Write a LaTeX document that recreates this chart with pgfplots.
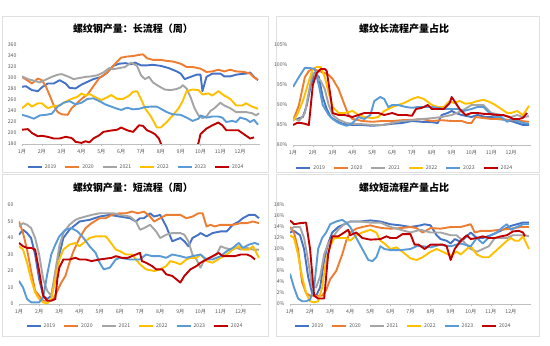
\documentclass[border=0pt]{standalone}
\usepackage{pgfplots}
\pgfplotsset{compat=1.18}
\usepackage{fontspec}
\setmainfont{Noto Sans CJK SC}
\definecolor{c19}{HTML}{4472C4}
\definecolor{c20}{HTML}{ED7D31}
\definecolor{c21}{HTML}{A5A5A5}
\definecolor{c22}{HTML}{FFC000}
\definecolor{c23}{HTML}{5B9BD5}
\definecolor{c24}{HTML}{C00000}
\definecolor{tk}{HTML}{595959}
\pgfplotsset{
  panel/.style={
    scale only axis, anchor=south west,
    xmin=1, xmax=13, enlargelimits=false,
    xtick={1,...,12},
    xticklabels={1月,2月,3月,4月,5月,6月,7月,8月,9月,10月,11月,12月},
    axis x line*=bottom, axis y line*=left,
    x axis line style={draw=black!25, line width=0.6pt},
    y axis line style={draw=none},
    ytick style={draw=none},
    xtick style={draw=black!25, line width=0.5pt},
    major tick length=2pt,
    tick align=outside,
    /pgf/number format/assume math mode=true,
    tick label style={font=\fontsize{5.2}{6}\selectfont, text=tk},
    every axis plot/.append style={line width=1.9pt, line join=round, mark=none},
    legend columns=6,
    legend style={draw=none, fill=none, font=\fontsize{5.2}{6}\selectfont, text=tk,
      /tikz/every even column/.append style={column sep=6pt}},
    legend image code/.code={\draw[##1, line width=1.9pt] (0pt,0pt) -- (14pt,0pt);},
  },
}
\begin{document}
\begin{tikzpicture}
\useasboundingbox (0pt,0pt) rectangle (550pt,346pt);
\fill[white] (0pt,0pt) rectangle (550pt,346pt);
\draw[black!12, line width=0.6pt] (2pt,174pt) rectangle (268pt,330pt);
\draw[black!12, line width=0.6pt] (276pt,174pt) rectangle (539pt,330pt);
\draw[black!12, line width=0.6pt] (2pt,10pt) rectangle (268pt,172pt);
\draw[black!12, line width=0.6pt] (276pt,10pt) rectangle (539pt,172pt);
\node[font=\bfseries\fontsize{10}{12}\selectfont] at (133pt,317pt) {螺纹钢产量：长流程（周）};
\node[font=\bfseries\fontsize{10}{12}\selectfont] at (404pt,317pt) {螺纹长流程产量占比};
\node[font=\bfseries\fontsize{10}{12}\selectfont] at (133pt,158pt) {螺纹钢产量：短流程（周）};
\node[font=\bfseries\fontsize{10}{12}\selectfont] at (404pt,158pt) {螺纹短流程产量占比};

% ---------- TL ----------
\begin{axis}[panel, at={(22pt,202pt)}, width=238pt, height=99pt,
  ymin=180, ymax=360, ytick={180,200,...,360},
  legend style={at={(0.48,-0.235)}, anchor=center}]
\addplot[c19] coordinates {(1,284)(1.2,285)(1.5,278)(1.8,276)(2.0,283)(2.3,290)(2.6,290)(2.9,296)(3.2,290)(3.4,282)(3.7,281)(4.0,288)(4.3,293)(4.6,298)(5.0,302)(5.3,310)(5.6,322)(5.9,326)(6.2,327)(6.5,325)(6.7,328)(7.0,323)(7.3,323)(7.6,324)(8.0,322)(8.4,318)(8.8,312)(9.0,308)(9.2,298)(9.5,302)(9.8,306)(10.0,306)(10.1,276)(10.3,302)(10.6,308)(11.0,308)(11.2,303)(11.5,303)(11.8,306)(12.0,307)(12.3,308)(12.5,310)(12.7,302)(12.9,296)};
\addplot[c20] coordinates {(1,302)(1.3,295)(1.5,290)(1.8,299)(2.0,296)(2.2,285)(2.4,268)(2.6,250)(2.8,238)(3.0,234)(3.3,233)(3.5,245)(3.8,255)(4.0,262)(4.3,270)(4.6,285)(4.9,300)(5.2,307)(5.5,318)(5.8,330)(6.0,337)(6.3,339)(6.6,340)(6.9,342)(7.1,343)(7.3,336)(7.6,333)(8.0,333)(8.3,331)(8.6,330)(9.0,326)(9.3,320)(9.6,320)(10.0,317)(10.3,311)(10.6,312)(10.9,315)(11.2,312)(11.5,315)(11.8,312)(12.2,311)(12.5,308)(12.7,301)(12.9,297)};
\addplot[c21] coordinates {(1,303)(1.3,298)(1.6,295)(1.9,292)(2.2,297)(2.5,302)(2.8,306)(3.0,307)(3.3,303)(3.6,298)(3.9,300)(4.2,302)(4.5,303)(4.8,305)(5.1,310)(5.4,318)(5.6,316)(5.9,318)(6.2,320)(6.5,328)(6.8,322)(7.0,305)(7.2,298)(7.4,302)(7.6,292)(7.9,285)(8.2,279)(8.5,278)(8.8,280)(9.0,283)(9.1,287)(9.3,281)(9.5,265)(9.7,245)(9.9,232)(10.1,227)(10.3,230)(10.5,240)(10.7,245)(11.0,255)(11.2,250)(11.5,245)(11.8,238)(12.0,238)(12.3,238)(12.6,236)(12.8,232)(12.95,236)};
\addplot[c22] coordinates {(1,245)(1.3,254)(1.5,248)(1.8,254)(2.0,254)(2.3,245)(2.6,249)(2.9,250)(3.2,257)(3.5,262)(3.8,266)(4.0,272)(4.2,268)(4.4,271)(4.7,265)(5.0,260)(5.3,265)(5.5,269)(5.8,262)(6.1,262)(6.4,268)(6.6,275)(6.8,276)(7.0,262)(7.2,245)(7.5,230)(7.8,210)(8.0,210)(8.3,220)(8.6,232)(8.9,245)(9.1,258)(9.3,276)(9.6,279)(9.9,278)(10.1,270)(10.4,272)(10.6,268)(10.9,276)(11.2,268)(11.5,262)(11.8,250)(12.1,250)(12.3,254)(12.6,248)(12.9,244)};
\addplot[c23] coordinates {(1,233)(1.3,230)(1.6,226)(1.9,232)(2.2,233)(2.5,235)(2.8,248)(3.1,255)(3.4,258)(3.7,252)(4.0,255)(4.3,262)(4.6,263)(4.9,258)(5.2,252)(5.5,248)(5.8,244)(6.0,242)(6.3,246)(6.6,243)(6.9,244)(7.2,247)(7.5,248)(7.8,248)(8.0,244)(8.3,238)(8.6,234)(9.0,233)(9.3,228)(9.6,222)(9.9,226)(10.0,232)(10.3,228)(10.6,230)(10.9,230)(11.1,228)(11.3,220)(11.6,222)(11.8,220)(12.0,228)(12.3,225)(12.5,220)(12.7,224)(12.9,215)};
\addplot[c24] coordinates {(1,206)(1.3,207)(1.5,200)(1.8,194)(2.0,195)(2.3,193)(2.6,190)(2.9,190)(3.2,193)(3.5,191)(3.7,184)(4.0,182)(4.2,185)(4.4,183)(4.6,190)(4.9,196)(5.1,202)(5.4,204)(5.8,206)(6.0,210)(6.3,205)(6.6,202)(6.9,214)(7.1,213)(7.3,205)(7.5,202)(7.7,198)(7.9,190)(8.1,172)(8.6,160)(9.2,155)(9.7,165)(9.9,182)(10.0,198)(10.3,208)(10.6,214)(10.9,219)(11.1,214)(11.3,205)(11.6,205)(11.9,205)(12.1,200)(12.3,195)(12.5,190)(12.7,192)};
\legend{2019,2020,2021,2022,2023,2024}
\end{axis}

% ---------- TR ----------
\begin{axis}[panel, at={(293pt,201pt)}, width=238pt, height=100pt,
  ymin=80, ymax=105, ytick={80,85,...,105},
  yticklabel={\pgfmathprintnumber{\tick}\%},
  legend style={at={(0.47,-0.23)}, anchor=center}]
\addplot[c19] coordinates {(1,86.5)(1.2,86.5)(1.5,87)(1.7,90)(1.9,95)(2.1,98)(2.3,97)(2.5,92)(2.7,89)(2.9,87)(3.2,86)(3.5,85.3)(4.0,85)(4.5,85)(5.0,84.8)(5.5,85)(6.0,85.3)(6.5,85.5)(7.0,86)(7.5,85.8)(8.0,85.7)(8.3,85.5)(8.5,87.5)(8.8,88)(9.0,88.5)(9.2,88)(9.5,87.5)(10.0,87)(10.3,87.5)(10.7,87)(11.0,87)(11.3,86.5)(11.7,86.3)(12.0,86)(12.3,85.5)(12.6,85)(12.9,85)};
\addplot[c20] coordinates {(1,86)(1.3,90)(1.6,97)(1.8,98.5)(2.0,99)(2.3,98.5)(2.6,98)(2.8,97.5)(3.0,96.5)(3.3,94)(3.6,90)(3.8,87.5)(4.0,86.5)(4.5,86)(5.0,85.8)(5.5,86)(6.0,86)(6.5,86.2)(7.0,86.3)(7.5,86.5)(8.0,86)(8.5,86.2)(9.0,86)(9.5,86)(9.8,85.5)(10.0,85.5)(10.2,87)(10.5,86.8)(11.0,86.5)(11.5,86.5)(12.0,86.2)(12.5,86)(12.9,85.8)};
\addplot[c21] coordinates {(1,87)(1.3,86)(1.6,88)(1.9,96)(2.0,98)(2.2,97)(2.4,96)(2.6,94)(2.8,90)(3.0,87.5)(3.3,86.3)(3.7,85.5)(4.0,85.3)(4.5,85.2)(5.0,85)(5.5,85)(6.0,85.5)(6.5,86)(7.0,86.2)(7.5,86.5)(8.0,86.7)(8.5,87)(9.0,87.5)(9.5,88.5)(10.0,90)(10.3,90)(10.6,90)(11.0,88)(11.5,87.5)(12.0,87)(12.3,87.5)(12.6,87)(12.9,87.2)};
\addplot[c22] coordinates {(1,86)(1.2,87.5)(1.5,91)(1.8,96)(2.0,99)(2.2,99.5)(2.4,99.5)(2.6,97)(2.8,93)(3.0,89.5)(3.3,88)(3.6,88)(4.0,88.5)(4.3,87.5)(4.6,87)(5.0,86.7)(5.3,87)(5.6,88.5)(6.0,89.5)(6.3,90)(6.6,90.5)(7.0,91.5)(7.3,92)(7.6,91.5)(8.0,90)(8.3,89.5)(8.6,89.5)(8.9,91)(9.1,90.5)(9.4,91)(9.7,90.3)(10.0,90.5)(10.3,91)(10.6,91.3)(10.9,90.8)(11.2,90)(11.5,89)(11.8,88)(12.0,88)(12.3,88.5)(12.6,87.5)(12.9,89.8)};
\addplot[c23] coordinates {(1,94.5)(1.3,97)(1.6,99.3)(1.9,99.2)(2.1,99)(2.3,95)(2.5,90)(2.8,87.5)(3.0,86.5)(3.3,85.5)(3.7,84.8)(4.0,85.5)(4.3,87)(4.6,86.5)(4.9,87.5)(5.1,91)(5.4,92)(5.6,91.5)(5.8,89.5)(6.0,90)(6.3,90)(6.7,89.5)(7.0,89.3)(7.3,89.5)(7.6,89.5)(8.0,89.5)(8.3,89.3)(8.6,89)(9.0,89)(9.3,89)(9.6,88.5)(10.0,89)(10.3,89.5)(10.6,89.5)(10.9,88)(11.2,87)(11.5,87)(11.8,85.8)(12.0,86.5)(12.3,86)(12.6,85.5)(12.9,85.3)};
\addplot[c24] coordinates {(1,85)(1.2,85.5)(1.4,85.5)(1.6,85.3)(1.8,85)(1.9,90)(2.0,95)(2.2,98)(2.4,99)(2.6,99)(2.7,98.5)(2.9,92)(3.0,88)(3.3,87.5)(3.6,87.5)(4.0,87)(4.3,87.5)(4.6,88)(5.0,88)(5.3,88)(5.6,87.5)(6.0,88)(6.3,87.5)(6.7,87.5)(7.0,87.3)(7.2,89)(7.5,89.3)(7.8,90)(8.0,89)(8.3,89)(8.6,89)(8.9,90.5)(9.0,92)(9.2,90.5)(9.4,89)(9.7,87.5)(10.0,88)(10.3,88)(10.6,87.8)(11.0,87.7)(11.3,87.5)(11.6,87.5)(11.9,87)(12.1,86.5)(12.4,86.5)(12.6,86.8)(12.8,88)};
\legend{2019,2020,2021,2022,2023,2024}
\end{axis}

% ---------- BL ----------
\begin{axis}[panel, at={(19pt,42pt)}, width=242pt, height=99pt,
  ymin=0, ymax=60, ytick={0,10,...,60},
  legend style={at={(0.48,-0.225)}, anchor=center}]
\addplot[c19] coordinates {(1,42)(1.2,45)(1.4,43)(1.6,40)(1.8,30)(2.0,15)(2.2,5)(2.4,3)(2.6,5)(2.8,15)(3.0,30)(3.2,40)(3.5,45)(3.8,48)(4.0,50)(4.5,51)(5.0,53)(5.5,54)(6.0,53)(6.5,52)(6.8,50)(7.0,52)(7.2,52)(7.5,55)(7.7,53)(8.0,54)(8.3,47)(8.6,38)(8.8,39)(9.0,40)(9.2,38)(9.4,35)(9.6,40)(9.9,42)(10.0,43)(10.3,41)(10.6,43)(11.0,44)(11.3,44)(11.6,48)(11.9,50)(12.1,52)(12.4,54)(12.7,54)(12.9,52)};
\addplot[c20] coordinates {(1,50)(1.2,43)(1.4,33)(1.6,20)(1.8,8)(2.0,5)(2.2,2)(2.5,2)(2.7,3)(2.9,8)(3.1,13)(3.3,17)(3.5,25)(3.7,32)(4.0,40)(4.3,46)(4.6,49)(5.0,52)(5.3,52)(5.6,54)(6.0,55)(6.3,55)(6.6,56)(6.9,55)(7.2,56)(7.5,53)(7.7,50)(8.0,52)(8.3,54)(8.6,54)(9.0,54)(9.3,52)(9.6,53)(9.9,55)(10.1,55)(10.3,47)(10.5,48)(10.7,47)(11.0,48)(11.3,48)(11.6,48)(12.0,49)(12.3,49)(12.6,50)(12.9,49)};
\addplot[c21] coordinates {(1,47)(1.2,49)(1.4,48)(1.6,46)(1.8,40)(2.0,30)(2.2,15)(2.4,8)(2.6,5)(2.8,20)(3.0,35)(3.2,43)(3.5,48)(3.8,51)(4.0,52)(4.3,53)(4.6,54)(5.0,55)(5.3,55)(5.7,55)(6.0,54)(6.5,53)(6.8,50)(7.0,45)(7.2,46)(7.5,48)(7.8,44)(8.0,40)(8.3,42)(8.6,43)(9.0,43)(9.2,42)(9.4,38)(9.6,30)(9.8,27)(10.0,22)(10.2,27)(10.5,28)(10.8,30)(11.0,35)(11.2,34)(11.5,33)(11.8,34)(12.0,33)(12.3,34)(12.6,33)(12.9,33)};
\addplot[c22] coordinates {(1,35)(1.2,33)(1.4,25)(1.6,15)(1.8,7)(2.0,3)(2.2,1)(2.4,0.3)(2.6,3)(2.8,15)(3.0,27)(3.2,33)(3.5,36)(3.8,37)(4.0,35)(4.2,37)(4.5,40)(4.8,41)(5.0,41)(5.3,41)(5.5,38)(5.8,33)(6.0,32)(6.3,30)(6.6,30)(7.0,24)(7.3,21)(7.7,20)(8.0,21)(8.3,23)(8.5,26)(8.8,25)(9.0,24)(9.3,27)(9.5,28)(9.8,28)(10.0,30)(10.3,26)(10.6,25)(11.0,28)(11.3,30)(11.6,33)(11.9,35)(12.1,33)(12.4,33)(12.6,35)(12.9,28)};
\addplot[c23] coordinates {(1,14)(1.2,10)(1.4,3)(1.6,1)(1.8,1)(2.0,1)(2.2,4)(2.4,18)(2.6,30)(2.8,36)(3.0,41)(3.3,45)(3.6,46)(3.9,44)(4.2,40)(4.5,35)(4.8,31)(5.0,25)(5.2,21)(5.5,22)(5.8,27)(6.0,28)(6.5,27)(7.0,27)(7.3,30)(7.6,29)(8.0,29)(8.3,28)(8.6,30)(9.0,29)(9.3,28)(9.6,29)(10.0,30)(10.3,27)(10.6,27)(11.0,29)(11.3,32)(11.6,34)(11.9,37)(12.1,34)(12.4,36)(12.7,37)(12.9,36)};
\addplot[c24] coordinates {(1,37)(1.2,35)(1.4,34)(1.6,34)(1.8,33)(2.0,20)(2.2,5)(2.4,2)(2.6,2)(2.8,3)(2.9,15)(3.0,22)(3.2,27)(3.5,27)(3.8,28)(4.0,27)(4.3,27)(4.6,26)(5.0,27)(5.3,27.5)(5.6,28)(5.8,29)(6.1,28)(6.4,28)(6.7,29.5)(7.0,31)(7.1,26)(7.3,25)(7.6,23)(7.8,21)(8.1,21)(8.3,18)(8.6,17)(8.8,15)(9.0,13)(9.2,17)(9.5,21)(9.8,23)(10.0,25)(10.3,27)(10.6,29)(10.9,31)(11.1,29)(11.4,29)(11.7,29)(12.0,30)(12.3,30)(12.5,29)(12.7,27)};
\legend{2019,2020,2021,2022,2023,2024}
\end{axis}

% ---------- BR ----------
\begin{axis}[panel, at={(290pt,42pt)}, width=241pt, height=99pt,
  ymin=0, ymax=18, ytick={0,2,...,18},
  yticklabel={\pgfmathprintnumber{\tick}\%},
  legend style={at={(0.47,-0.225)}, anchor=center}]
\addplot[c19] coordinates {(1,13)(1.2,13.3)(1.5,12.5)(1.7,10)(1.9,5)(2.1,2)(2.3,1.5)(2.5,3)(2.7,8)(2.9,11)(3.1,13)(3.4,14)(3.7,14.5)(4.0,15)(4.5,15)(5.0,15.2)(5.5,15)(6.0,14.5)(6.5,14.3)(7.0,14)(7.5,14.3)(7.7,14.5)(8.0,14.3)(8.3,12.5)(8.5,11.8)(8.8,11.5)(9.0,11)(9.2,11.8)(9.5,11.3)(10.0,13)(10.3,12)(10.6,12)(11.0,12.5)(11.3,13)(11.6,13.5)(12.0,14.2)(12.3,14.5)(12.6,14.8)(12.9,14.8)};
\addplot[c20] coordinates {(1,14)(1.2,13)(1.4,10)(1.6,4)(1.8,2)(2.0,1.5)(2.3,1.5)(2.6,1.5)(2.8,2.5)(3.0,4.5)(3.3,6)(3.6,9)(3.8,11.5)(4.0,13)(4.3,13.7)(4.6,14)(5.0,14.3)(5.3,14)(5.6,13.8)(6.0,13.7)(6.5,13.8)(7.0,14)(7.3,13.8)(7.6,13)(8.0,13.8)(8.5,13.7)(9.0,14)(9.5,14)(10.0,14.5)(10.2,13)(10.5,13.3)(11.0,13.3)(11.5,13.5)(12.0,13.7)(12.5,14)(12.9,14)};
\addplot[c21] coordinates {(1,13.5)(1.2,14)(1.5,14)(1.7,12)(1.9,8)(2.1,3)(2.3,3)(2.5,5)(2.7,9)(2.9,11)(3.1,12)(3.4,13.5)(3.7,14.5)(4.0,15)(4.5,15)(5.0,14.8)(5.5,14.8)(6.0,14)(6.5,13.5)(7.0,13)(7.5,13.5)(8.0,13)(8.5,13)(9.0,12.5)(9.3,12.5)(9.6,11.5)(10.0,10)(10.3,9.5)(10.6,10)(10.9,10.5)(11.2,12)(11.5,12)(11.8,12)(12.1,12.5)(12.4,12.5)(12.7,12.5)(12.9,12.3)};
\addplot[c22] coordinates {(1,12.5)(1.2,12)(1.4,9)(1.6,5)(1.8,2)(2.0,0.5)(2.2,0.3)(2.4,0.5)(2.6,3)(2.8,8)(3.0,10.5)(3.2,12)(3.5,12)(3.8,12)(4.0,11.5)(4.3,12.5)(4.6,13)(5.0,13.5)(5.3,13)(5.5,11.5)(5.7,11)(6.0,10)(6.3,10.3)(6.6,9.5)(7.0,8.3)(7.3,8)(7.6,8.5)(8.0,9.5)(8.3,10)(8.6,9.5)(9.0,8.8)(9.3,9.5)(9.5,9)(9.8,10)(10.0,10.5)(10.3,9)(10.6,8.5)(10.9,8.5)(11.2,9.5)(11.5,10.5)(11.8,11.5)(12.0,12)(12.2,11.5)(12.4,11.5)(12.6,12.3)(12.9,10)};
\addplot[c23] coordinates {(1,5.5)(1.2,3)(1.4,1)(1.6,0.5)(1.8,0.5)(2.0,0.8)(2.2,3)(2.4,10)(2.6,12)(2.8,13)(3.0,14.5)(3.3,15)(3.6,15.3)(3.8,14.8)(4.0,14)(4.3,12)(4.6,10)(4.9,8)(5.1,7.8)(5.3,8.5)(5.5,10.5)(5.7,10)(6.0,9.8)(6.5,9.8)(7.0,10)(7.3,10.5)(7.6,10.5)(8.0,10.3)(8.5,10.8)(9.0,10.5)(9.5,11)(10.0,10.5)(10.3,12)(10.6,11)(11.0,12.5)(11.3,13)(11.6,14)(11.8,14.5)(12.0,13.5)(12.3,14)(12.6,14.5)(12.9,14.5)};
\addplot[c24] coordinates {(1,15.2)(1.2,14.5)(1.5,14.7)(1.8,14.8)(2.0,10)(2.2,1.5)(2.4,1)(2.6,1)(2.7,1)(2.9,9)(3.1,12.3)(3.4,12.3)(3.7,13)(3.9,13.5)(4.0,12.5)(4.3,13)(4.6,12)(5.0,11.7)(5.5,11.8)(5.8,12.3)(6.0,12)(6.3,12)(6.6,12.7)(7.0,12.7)(7.2,10.8)(7.4,10.8)(7.7,10)(8.0,10.8)(8.3,10.8)(8.6,10.8)(8.8,10.5)(9.0,8)(9.2,10)(9.5,11.5)(9.8,12.5)(10.0,11.8)(10.3,12)(10.6,12.3)(10.9,12)(11.2,12)(11.5,12.3)(11.8,12.5)(12.1,13.2)(12.4,13.3)(12.6,13)(12.7,12.3)};
\legend{2019,2020,2021,2022,2023,2024}
\end{axis}
\end{tikzpicture}
\end{document}
